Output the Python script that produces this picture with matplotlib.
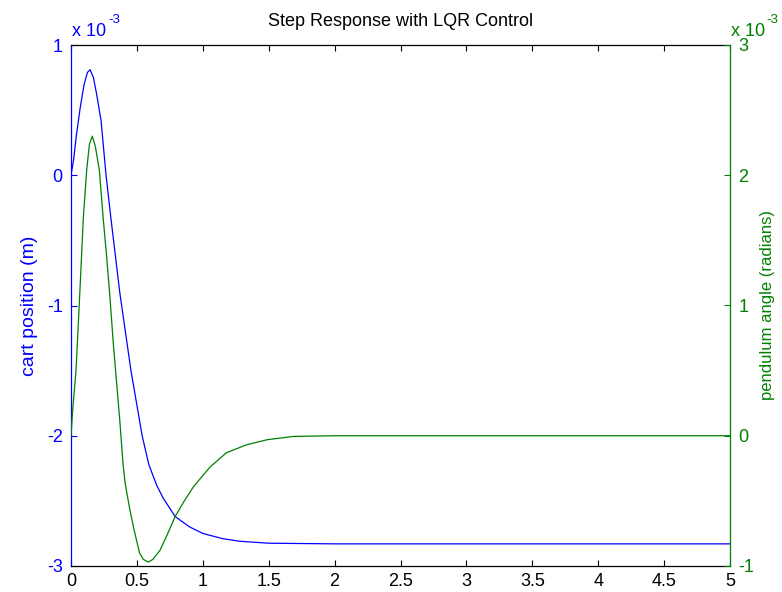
import matplotlib
matplotlib.use("Agg")
import matplotlib.pyplot as plt

plt.rcParams["font.family"] = ["Liberation Sans", "DejaVu Sans"]
plt.rcParams["axes.unicode_minus"] = False

# cart position, in units of 1e-3 m
t_cart = [0, 0.02, 0.04, 0.07, 0.10, 0.125, 0.145, 0.17, 0.195, 0.228, 0.266,
          0.304, 0.37, 0.455, 0.54, 0.59, 0.65, 0.70, 0.79, 0.90, 1.0, 1.15,
          1.28, 1.5, 2.0, 3.0, 5.0]
cart_pos = [0, 0.12, 0.30, 0.52, 0.70, 0.79, 0.81, 0.75, 0.62, 0.42, 0.0,
            -0.34, -0.90, -1.50, -2.00, -2.22, -2.38, -2.48, -2.62, -2.70, -2.75, -2.79,
            -2.81, -2.825, -2.83, -2.83, -2.83]

# pendulum angle, in units of 1e-3 rad
t_angle = [0, 0.013, 0.038, 0.053, 0.068, 0.094, 0.119, 0.14, 0.162, 0.185, 0.215,
           0.245, 0.27, 0.295, 0.32, 0.345, 0.37, 0.395, 0.41, 0.445, 0.478, 0.52,
           0.55, 0.587, 0.62, 0.675, 0.73, 0.79, 0.86, 0.93, 1.055, 1.18, 1.33,
           1.49, 1.69, 2.0, 3.0, 5.0]
angle = [0, 0.20, 0.50, 0.81, 1.12, 1.68, 2.04, 2.24, 2.30, 2.22, 2.04,
         1.66, 1.38, 1.07, 0.72, 0.42, 0.12, -0.22, -0.36, -0.56, -0.72, -0.90,
         -0.95, -0.97, -0.95, -0.88, -0.76, -0.62, -0.50, -0.39, -0.24, -0.13, -0.07,
         -0.03, -0.005, 0, 0, 0]

x_ticks = [0, 0.5, 1, 1.5, 2, 2.5, 3, 3.5, 4, 4.5, 5]
x_labels = ["0", "0.5", "1", "1.5", "2", "2.5", "3", "3.5", "4", "4.5", "5"]
left_ticks = [-3, -2, -1, 0, 1]
right_ticks = [-1, 0, 1, 2, 3]

blue = (0, 0, 1)
green = (0, 0.5, 0)
W, H = 782, 592

fig = plt.figure(figsize=(W / 100, H / 100), dpi=100)
ax = fig.add_axes([71 / W, 1 - 566 / H, (730 - 71) / W, (566 - 45) / H])
ax2 = ax.twinx()

ax.plot(t_cart, cart_pos, color=blue, lw=0.9)
ax2.plot(t_angle, angle, color=green, lw=0.9)

ax.set_xlim(0, 5)
ax.set_ylim(-3, 1)
ax2.set_ylim(-1, 3)
ax.set_xticks(x_ticks)
ax.set_xticklabels(x_labels)
ax.set_yticks(left_ticks)
ax.set_yticklabels([str(v) for v in left_ticks])
ax2.set_yticks(right_ticks)
ax2.set_yticklabels([str(v) for v in right_ticks])

ax.tick_params(axis="x", direction="in", length=4, width=0.8, top=True,
               labelsize=13, pad=5, colors="black")
ax.tick_params(axis="y", direction="in", length=4, width=0.8, labelsize=13,
               pad=6, colors=blue)
ax2.tick_params(axis="y", direction="in", length=4, width=0.8, labelsize=13,
                pad=6, colors=green)

ax.spines["right"].set_visible(False)
ax.spines["left"].set_color(blue)
for s in ["left", "top", "bottom"]:
    ax2.spines[s].set_visible(False)
ax2.spines["right"].set_color(green)
for a in (ax, ax2):
    for s in a.spines.values():
        s.set_linewidth(0.9)

ax.set_ylabel("cart position (m)", color=blue, fontsize=14)
ax.yaxis.set_label_coords(-0.050, 0.5)
ax2.set_ylabel("pendulum angle (radians)", color=green, fontsize=12)
ax2.yaxis.set_label_coords(1.0455, 0.5)

fig.text(0.512, 1 - 22 / H, "Step Response with LQR Control", ha="center",
         va="center", fontsize=13)

# exponent labels as matlab draws them
fig.text(72 / W, 1 - 36 / H, "x 10", color=blue, fontsize=13, va="baseline")
fig.text(108 / W, 1 - 23 / H, "-3", color=blue, fontsize=9.5, va="baseline")
fig.text(731 / W, 1 - 36 / H, "x 10", color=green, fontsize=13, va="baseline")
fig.text(766 / W, 1 - 23 / H, "-3", color=green, fontsize=9.5, va="baseline")

fig.savefig("out.png", dpi=100, facecolor="white")
